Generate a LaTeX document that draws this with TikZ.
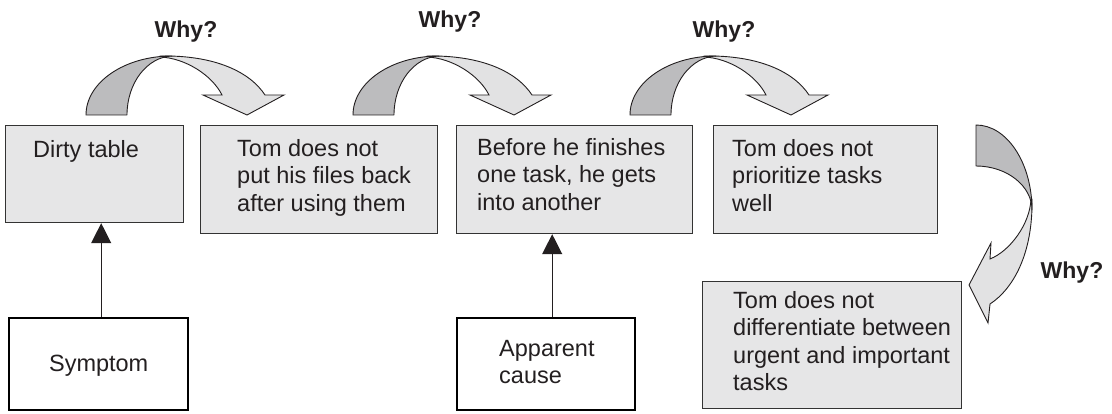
\documentclass[tikz,border=0pt]{standalone}
\usepackage{fontspec}
\setmainfont{Liberation Sans}
\usetikzlibrary{arrows.meta,calc}
\definecolor{boxfill}{HTML}{E6E6E7}
\definecolor{darkband}{HTML}{BCBCBE}
\definecolor{lightband}{HTML}{E2E2E3}
\definecolor{ink}{HTML}{231F20}
\definecolor{edge}{HTML}{333333}
\tikzset{
  dband/.style={fill=darkband, draw=ink, line width=0.9pt, line join=round},
  lband/.style={fill=lightband, draw=ink, line width=0.9pt},
  curvarr/.pic={
    \path[lband] (74,-59) .. controls (129,-60) and (164,-43) .. (179,-20)
      -- (198,-20) -- (161,0) -- (117,-20) -- (136,-20)
      .. controls (126,-40) and (99,-57) .. (74,-58) -- cycle;
    \path[dband] (0,0) .. controls (0,-32.6) and (38.5,-59) .. (86,-59)
      .. controls (61,-58) and (41,-32) .. (41,0) -- cycle;
  }
}
\begin{document}
\begin{tikzpicture}[x=1pt,y=-1pt,
  gbox/.style={draw=edge, line width=1.2pt, fill=boxfill, rectangle, inner sep=0pt, anchor=north west},
  kbox/.style={draw=black, line width=2.4pt, fill=white, rectangle, inner sep=0pt, anchor=north west},
  txt/.style={font=\fontsize{23.5}{27.5}\selectfont, text=ink, align=left, inner sep=0pt, anchor=north west},
  why/.style={font=\bfseries\fontsize{23}{27}\selectfont, text=ink, inner sep=0pt, anchor=base},
  link/.style={draw=ink, line width=1.2pt, -{Triangle[width=20pt,length=20pt]}}
]
\useasboundingbox (0,0) rectangle (1112,414);

% curved "why" arrows
\pic at (86,115) {curvarr};
\pic at (353,115) {curvarr};
\pic at (630,115) {curvarr};
\path[lband] (1032,199) .. controls (1033,254) and (1013,289) .. (990,304)
  -- (988,323) -- (969,285) -- (991,243) -- (990,259)
  .. controls (1010,251) and (1030,224) .. (1031,199) -- cycle;
\path[dband] (976,125) .. controls (1007,125) and (1032,163) .. (1032,210)
  .. controls (1032,186) and (1007,166) .. (976,166) -- cycle;

% grey boxes
\node[gbox, minimum width=178, minimum height=97] (b1) at (5,125) {};
\node[gbox, minimum width=237, minimum height=108] (b2) at (200,125) {};
\node[gbox, minimum width=236, minimum height=108] (b3) at (456,125) {};
\node[gbox, minimum width=224, minimum height=108] (b4) at (713,125) {};
\node[gbox, minimum width=259, minimum height=127] (b5) at (702,281) {};

\node[txt] (t1) at ([xshift=28pt,yshift=-15pt]b1.north west) {Dirty table};
\node[txt] (t2) at ([xshift=37pt,yshift=-14pt]b2.north west) {Tom does not\\put his files back\\after using them};
\node[txt] (t3) at ([xshift=21pt,yshift=-13pt]b3.north west) {Before he finishes\\one task, he gets\\into another};
\node[txt] (t4) at ([xshift=19pt,yshift=-14pt]b4.north west) {Tom does not\\prioritize tasks\\well};
\node[txt] (t5) at ([xshift=31pt,yshift=-10pt]b5.north west) {Tom does not\\differentiate between\\urgent and important\\tasks};

% white boxes
\node[kbox, minimum width=179, minimum height=92] (sym) at (8,317) {};
\node[kbox, minimum width=178, minimum height=92] (app) at (456,317) {};
\node[txt, anchor=base] (tsym) at ([yshift=-7pt]sym.center) {Symptom};
\node[txt] (tapp) at (499,340) {Apparent\\cause};

% connectors
\draw[link] ([xshift=2.5pt]sym.north) -- ([xshift=2.5pt]sym.north |- b1.south);
\draw[link] ([xshift=6pt]app.north) -- ([xshift=6pt]app.north |- b3.south);

% labels
\node[why] (w1) at (186,38) {Why?};
\node[why] (w2) at (450,28) {Why?};
\node[why] (w3) at (724,38) {Why?};
\node[why] (w4) at (1072,279) {Why?};
\end{tikzpicture}
\end{document}
